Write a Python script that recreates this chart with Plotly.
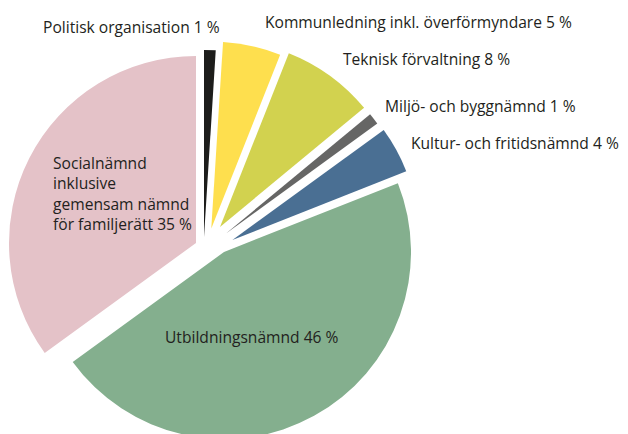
import plotly.graph_objects as go

# ---- data ----
labels = [
    "Politisk organisation",
    "Kommunledning inkl. överförmyndare",
    "Teknisk förvaltning",
    "Miljö- och byggnämnd",
    "Kultur- och fritidsnämnd",
    "Utbildningsnämnd",
    "Socialnämnd\ninklusive\ngemensam nämnd\nför familjerätt",
]
values = [1, 5, 8, 1, 4, 46, 35]

# ---- styles / layout ----
colors = ["#1d1d1b", "#fedf4e", "#d2d24f", "#666665", "#4a6f93", "#84af8e", "#e4c2c8"]
W, H = 628, 434
PAGE = 8  # the page's default body margin shifts the figure by this much on screen
# exploded centre (x, y) and radius of each slice, in screen pixels
explode = [
    (204, 237, 187),
    (211.3, 228.6, 187),
    (220, 227, 187),
    (226, 233.5, 187),
    (232.4, 240, 187),
    (224, 252, 187),
    (196, 243, 187),
]
# label anchor positions in screen pixels (x, y of text middle, xanchor, align)
label_pos = [
    (41, 26.5, "left", "left"),
    (263, 21.5, "left", "left"),
    (341, 58.5, "left", "left"),
    (383, 106, "left", "left"),
    (409, 142.5, "left", "left"),
    (251.5, 337, "center", "center"),
    (51, 193, "left", "left"),
]
FONT = "Open Sans"
FSIZE = 15.6
TXT = "#231f20"


def fx(px):
    return (px - PAGE) / W


def fy(py):
    return 1 - (py - PAGE) / H


fig = go.Figure()
clear = "rgba(0,0,0,0)"
for i, (cx, cy, r) in enumerate(explode):
    cols = [colors[j] if j == i else clear for j in range(len(values))]
    fig.add_trace(go.Pie(
        labels=[l.replace("\n", " ") for l in labels],
        values=values,
        sort=False,
        direction="clockwise",
        rotation=0,
        marker=dict(colors=cols, line=dict(width=0)),
        textinfo="none",
        hoverinfo="label+percent",
        showlegend=False,
        domain=dict(x=[max(0.0, fx(cx - r)), min(1.0, fx(cx + r))],
                    y=[max(0.0, fy(cy + r)), min(1.0, fy(cy - r))]),
    ))

for (lab, v, (px, py, xa, al)) in zip(labels, values, label_pos):
    fig.add_annotation(
        text=lab.replace("\n", "<br>") + f" {v} %",
        x=fx(px), y=fy(py), xref="paper", yref="paper",
        xanchor=xa, yanchor="middle", align=al, showarrow=False,
        font=dict(family=FONT, size=FSIZE, color=TXT),
    )

fig.update_layout(
    width=W, height=H,
    margin=dict(l=0, r=0, t=0, b=0),
    paper_bgcolor="white", plot_bgcolor="white",
    showlegend=False,
)
fig.write_html("out.html")
